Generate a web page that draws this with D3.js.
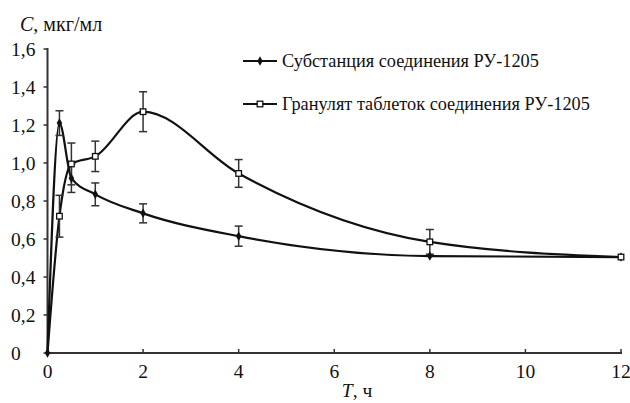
<!DOCTYPE html>
<html>
<head>
<meta charset="utf-8">
<script src="https://cdn.jsdelivr.net/npm/d3@7"></script>
<style>
  body { margin: 0; background: #fff; }
</style>
</head>
<body>
<div id="chart"></div>
<script>
// Data
const times = [0, 0.25, 0.5, 1, 2, 4, 8, 12];
const substance = [0, 1.21, 0.92, 0.835, 0.735, 0.615, 0.51, 0.505];
const substanceErr = [0, 0.065, 0.075, 0.06, 0.05, 0.053, 0, 0];
const granulate = [0, 0.72, 0.995, 1.035, 1.27, 0.945, 0.585, 0.505];
const granulateErr = [0, 0.11, 0.11, 0.08, 0.105, 0.073, 0.065, 0];
const xTicks = [0, 2, 4, 6, 8, 10, 12];
const yTicks = [0, 0.2, 0.4, 0.6, 0.8, 1.0, 1.2, 1.4, 1.6];
const seriesNames = ["Субстанция соединения РУ-1205", "Гранулят таблеток соединения РУ-1205"];

const width = 630, height = 403;
const x0 = 47.5, x1 = 621, y0 = 353, y1 = 49;
const serif = "'Liberation Serif', 'Times New Roman', Tinos, 'DejaVu Serif', serif";

const svg = d3.select("#chart")
  .append("svg")
  .attr("width", width)
  .attr("height", height)
  .attr("font-family", serif);

const x = d3.scaleLinear().domain([0, 12]).range([x0, x1]);
const y = d3.scaleLinear().domain([0, 1.6]).range([y0, y1]);

// Axes
const axisColor = "#333";
svg.append("line")
  .attr("x1", x0).attr("x2", x0).attr("y1", y0).attr("y2", y1 - 1)
  .attr("stroke", axisColor).attr("stroke-width", 2);
svg.append("line")
  .attr("x1", x0).attr("x2", x1 + 1).attr("y1", y0).attr("y2", y0)
  .attr("stroke", axisColor).attr("stroke-width", 2);

// y ticks (short, outward) and labels (left aligned)
svg.selectAll(".ytick")
  .data(yTicks)
  .enter()
  .append("line")
  .attr("x1", x0 - 4).attr("x2", x0)
  .attr("y1", d => y(d)).attr("y2", d => y(d))
  .attr("stroke", axisColor).attr("stroke-width", 1.5);

svg.selectAll(".ylab")
  .data(yTicks)
  .enter()
  .append("text")
  .attr("x", 11)
  .attr("y", d => y(d) + 7)
  .text(d => d === 0 ? "0" : d3.format(".1f")(d).replace(".", ","))
  .attr("font-family", serif)
  .style("font-size", "19.5px")
  .attr("fill", "#111");

// x ticks (short, inward) and labels
svg.selectAll(".xtick")
  .data(xTicks.slice(1))
  .enter()
  .append("line")
  .attr("x1", d => x(d)).attr("x2", d => x(d))
  .attr("y1", y0 - 4).attr("y2", y0)
  .attr("stroke", axisColor).attr("stroke-width", 1.5);

svg.selectAll(".xlab")
  .data(xTicks)
  .enter()
  .append("text")
  .attr("x", d => x(d))
  .attr("y", 378)
  .attr("text-anchor", "middle")
  .text(d => d)
  .attr("font-family", serif)
  .style("font-size", "19.5px")
  .attr("fill", "#111");

// Axis titles
const yTitle = svg.append("text")
  .attr("x", 20).attr("y", 31)
  .attr("font-family", serif)
  .style("font-size", "20px")
  .attr("fill", "#111");
yTitle.append("tspan").style("font-style", "italic").text("C");
yTitle.append("tspan").text(", мкг/мл");

const xTitle = svg.append("text")
  .attr("x", 357).attr("y", 397)
  .attr("text-anchor", "middle")
  .attr("font-family", serif)
  .style("font-size", "19.5px")
  .attr("fill", "#111");
xTitle.append("tspan").style("font-style", "italic").text("T");
xTitle.append("tspan").text(", ч");

// Lines
const line = d3.line()
  .x(d => x(d[0]))
  .y(d => y(d[1]))
  .curve(d3.curveMonotoneX);

const series = [
  { name: seriesNames[0], vals: substance, err: substanceErr, marker: "diamond" },
  { name: seriesNames[1], vals: granulate, err: granulateErr, marker: "square" }
];

series.forEach(s => {
  svg.append("path")
    .datum(times.map((t, i) => [t, s.vals[i]]))
    .attr("d", line)
    .attr("fill", "none")
    .attr("stroke", "#111")
    .attr("stroke-width", 2.2);
});

// Error bars
series.forEach(s => {
  const g = svg.append("g").attr("stroke", "#333").attr("stroke-width", 1.5);
  times.forEach((t, i) => {
    if (!s.err[i]) return;
    const cx = x(t), top = y(s.vals[i] + s.err[i]), bot = y(s.vals[i] - s.err[i]);
    g.append("line").attr("x1", cx).attr("x2", cx).attr("y1", top).attr("y2", bot);
    g.append("line").attr("x1", cx - 4).attr("x2", cx + 4).attr("y1", top).attr("y2", top);
    g.append("line").attr("x1", cx - 4).attr("x2", cx + 4).attr("y1", bot).attr("y2", bot);
  });
});

// Markers
function drawMarker(g, type, cx, cy) {
  if (type === "diamond") {
    g.append("path")
      .attr("d", d3.symbol().type(d3.symbolDiamond).size(26)())
      .attr("transform", `translate(${cx},${cy})`)
      .attr("fill", "#111");
  } else {
    g.append("rect")
      .attr("x", cx - 2.8).attr("y", cy - 2.8)
      .attr("width", 5.6).attr("height", 5.6)
      .attr("fill", "#fff")
      .attr("stroke", "#111")
      .attr("stroke-width", 1.3);
  }
}

series.forEach(s => {
  const g = svg.append("g");
  times.forEach((t, i) => {
    if (s.marker === "square" && t === 0) return;
    drawMarker(g, s.marker, x(t), y(s.vals[i]));
  });
});

// Legend
const legendY = [61, 104];
series.forEach((s, i) => {
  const g = svg.append("g").attr("transform", `translate(243, ${legendY[i]})`);
  g.append("line")
    .attr("x1", 0).attr("x2", 34).attr("y1", 0).attr("y2", 0)
    .attr("stroke", "#111").attr("stroke-width", 2.2);
  drawMarker(g, s.marker, 17, 0);
  g.append("text")
    .attr("x", 39).attr("y", 6)
    .text(s.name)
    .attr("font-family", serif)
    .style("font-size", "18.3px")
    .attr("fill", "#111");
});
</script>
</body>
</html>
